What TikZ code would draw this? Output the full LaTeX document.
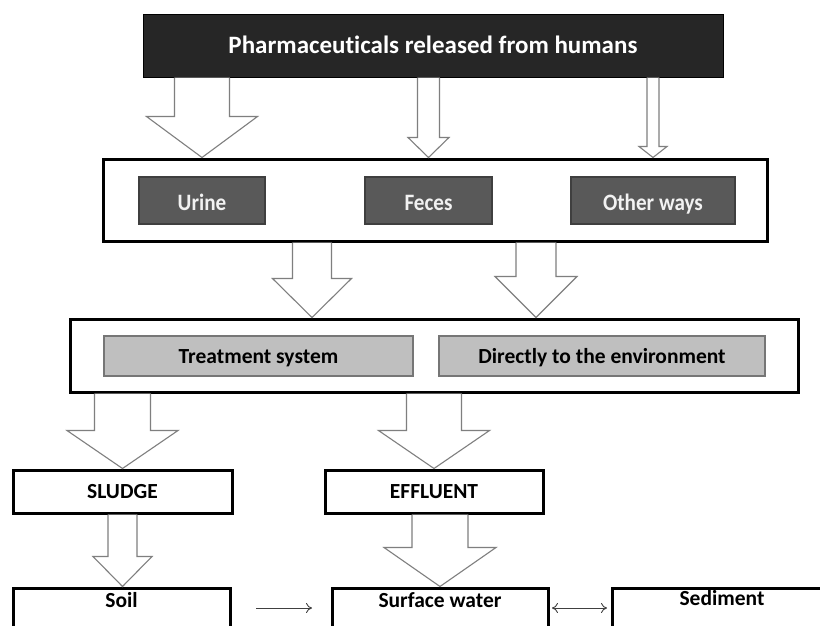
\documentclass[tikz,border=0pt]{standalone}
\usepackage{fontspec}
\setmainfont{Carlito}[Ligatures=NoCommon]
\newfontfamily\narrowfont{Carlito}[Ligatures=NoCommon,FakeStretch=0.9]
\usetikzlibrary{arrows.meta,calc}
\definecolor{phblack}{HTML}{262626}
\definecolor{phdark}{HTML}{595959}
\definecolor{phedge}{HTML}{3F3F3F}
\definecolor{phlight}{HTML}{BFBFBF}
\definecolor{phmid}{HTML}{767676}
\definecolor{pharrow}{HTML}{7F7F7F}
\definecolor{phlink}{HTML}{404040}
\tikzset{
  >={To[length=6pt,width=10pt]},
  x=1pt,y=-1pt,
  font=\fontsize{21.5}{24}\selectfont\bfseries,
  source/.style={draw=black,line width=1pt,fill=phblack,text=white,
                 minimum width=580pt,minimum height=63pt,
                 font=\fontsize{25}{28}\selectfont\bfseries,text height=16pt,text depth=0pt},
  frame/.style={draw=black,line width=3pt,fill=white},
  route/.style={draw=phedge,line width=1.2pt,fill=phdark,text=white!95!black,
                minimum height=47pt,text height=19pt,text depth=0pt,
                font=\narrowfont\fontsize{23.5}{26}\selectfont\bfseries},
  channel/.style={draw=phmid,line width=1.2pt,fill=phlight,
                  minimum height=40pt,text height=14pt,text depth=0pt},
  stage/.style={draw=black,line width=3pt,fill=white,minimum height=43pt,
                text height=14pt,text depth=0pt},
  sink/.style={draw=black,line width=3pt,fill=white,anchor=north,inner ysep=3pt,
               text height=16pt,text depth=40pt},
  fat/.style={draw=pharrow,line width=1.1pt,fill=white},
  link/.style={draw=phlink,line width=0.9pt},
}
% hollow block arrow: column, from anchor, to anchor, half shaft, half head, head length
\newcommand{\fatarrow}[6]{%
  \draw[fat] ($(#1 |- #2)+(-#4,0)$) -- ($(#1 |- #3)+(-#4,-#6)$)
    -- ($(#1 |- #3)+(-#5,-#6)$) -- (#1 |- #3)
    -- ($(#1 |- #3)+(#5,-#6)$) -- ($(#1 |- #3)+(#4,-#6)$)
    -- ($(#1 |- #2)+(#4,0)$);}

\begin{document}
\begin{tikzpicture}
  \useasboundingbox[fill=white] (0,0) rectangle (820,625);
  \clip (0,0) rectangle (820,625);

  \node[source] (release) at (433,45.5) {Pharmaceuticals released from humans};

  % excretion routes
  \node[frame,minimum width=664pt,minimum height=82pt] (routes) at (435,200) {};
  \node[route,minimum width=126pt] (urine) at (202,200.5) {Urine};
  \node[route,minimum width=127pt] (feces) at (428.5,200.5) {Feces};
  \node[route,minimum width=164pt] (other) at (653,200.5) {Other ways};

  % where it goes next
  \node[frame,minimum width=728pt,minimum height=73pt] (fate) at (434,355.5) {};
  \node[channel,minimum width=309pt] (treat) at (258.5,356) {Treatment system};
  \node[channel,minimum width=326pt] (direct) at (602,356) {Directly to the environment};

  \node[stage,minimum width=219pt] (sludge) at (122.5,491.5) {SLUDGE};
  \node[stage,minimum width=218pt] (effluent) at (434,491.5) {EFFLUENT};

  % compartments (cut at the bottom edge)
  \node[sink,minimum width=217pt] (soil) at (121.5,586.5) {Soil};
  \node[sink,minimum width=216pt] (surface) at (440,586.5) {Surface water};
  \node[sink,minimum width=220pt,text height=14pt,text depth=42pt] (sediment) at (722,586.5) {Sediment};

  \coordinate (colA) at (312,0);
  \coordinate (colB) at (536,0);

  \fatarrow{urine}{release.south}{routes.north}{27.5}{55.5}{41}
  \fatarrow{feces}{release.south}{routes.north}{11}{20.5}{20}
  \fatarrow{other}{release.south}{routes.north}{6}{14}{11}
  \fatarrow{colA}{routes.south}{fate.north}{19.5}{39.5}{39}
  \fatarrow{colB}{routes.south}{fate.north}{20}{41}{41}
  \fatarrow{sludge}{fate.south}{sludge.north}{28}{55.5}{38}
  \fatarrow{effluent}{fate.south}{effluent.north}{27.5}{55.5}{38}
  \fatarrow{sludge}{sludge.south}{soil.north}{14.5}{29.5}{30}
  \fatarrow{surface}{effluent.south}{surface.north}{28}{56}{39}

  \draw[link,->,shorten <=24.5pt,shorten >=18.5pt]
    ([yshift=-21.5pt]soil.north east) -- ([yshift=-21.5pt]surface.north west);
  \draw[link,<->,shorten <=2.5pt,shorten >=3.5pt]
    ([yshift=-21.5pt]surface.north east) -- ([yshift=-21.5pt]sediment.north west);
\end{tikzpicture}
\end{document}
